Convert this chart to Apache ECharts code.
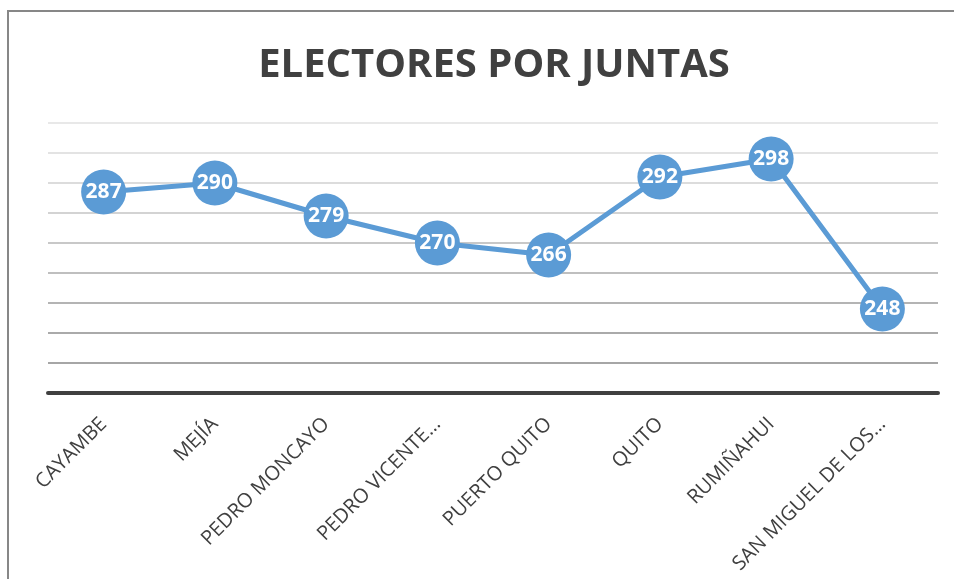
<!DOCTYPE html>
<html>
<head>
<meta charset="utf-8">
<script src="https://cdn.jsdelivr.net/npm/echarts@6/dist/echarts.min.js"></script>
<style>
html,body{margin:0;padding:0;background:#fff;}
#c{width:954px;height:579px;}
</style>
</head>
<body>
<div id="c"></div>
<script>
var categories = ['CAYAMBE','MEJÍA','PEDRO MONCAYO','PEDRO VICENTE…','PUERTO QUITO','QUITO','RUMIÑAHUI','SAN MIGUEL DE LOS…'];
var values = [287, 290, 279, 270, 266, 292, 298, 248];
var titleText = 'ELECTORES POR JUNTAS';

var chart = echarts.init(document.getElementById('c'));
chart.setOption({
  animation: false,
  backgroundColor: '#ffffff',
  graphic: [{
    type: 'rect',
    shape: {x: 8, y: 11, width: 1000, height: 700},
    style: {fill: 'none', stroke: '#878787', lineWidth: 2},
    silent: true
  }],
  title: {
    text: titleText,
    left: 489,
    top: 41,
    textAlign: 'center',
    textStyle: {fontFamily: 'Open Sans', fontWeight: 'bold', fontSize: 40, color: '#404040'}
  },
  grid: {left: 48, right: 16, top: 123, bottom: 186},
  xAxis: {
    type: 'category',
    data: categories,
    boundaryGap: true,
    axisLine: {lineStyle: {color: '#404040', width: 4}},
    axisTick: {show: false},
    axisLabel: {rotate: 45, fontFamily: 'Open Sans', fontSize: 20, color: '#404040', margin: 28, interval: 0}
  },
  yAxis: {
    type: 'value',
    min: 220, max: 310, interval: 10,
    axisLabel: {show: false},
    axisLine: {show: false},
    axisTick: {show: false},
    splitLine: {lineStyle: {width: 2, color: ['#a8a8a8','#a6a6a6','#aaaaaa','#b4b4b4','#bfbfbf','#c8c8c8','#d3d3d3','#dcdcdc','#e3e3e3','#e8e8e8']}}
  },
  series: [{
    type: 'line',
    data: values,
    symbol: 'circle',
    symbolSize: 45,
    lineStyle: {color: '#5B9BD5', width: 5},
    itemStyle: {color: '#5B9BD5'},
    label: {show: true, position: 'inside', color: '#ffffff', fontFamily: 'Open Sans', fontWeight: 'bold', fontSize: 21}
  }]
});
</script>
</body>
</html>
